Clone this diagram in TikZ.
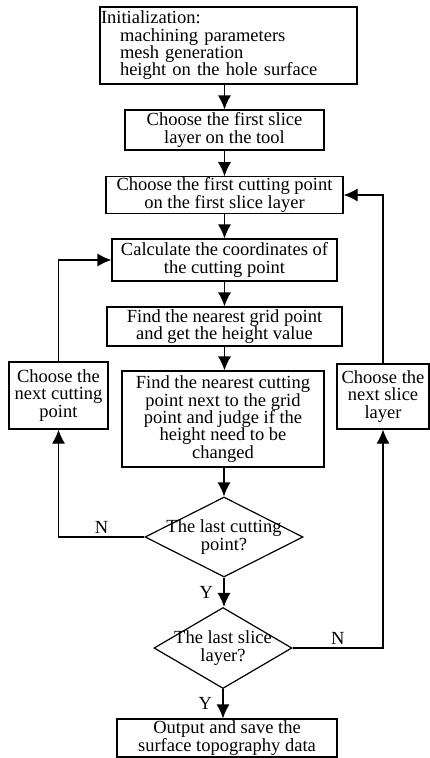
\documentclass[tikz,border=0pt]{standalone}
\usepackage{fontspec}
\setmainfont{Liberation Serif}
\usepackage{tikz}
\usetikzlibrary{arrows.meta}
\usetikzlibrary{shapes.geometric}
\tikzset{>={Latex[length=14pt, width=13pt]}}

\begin{document}
\begin{tikzpicture}[x=1pt, y=-1pt, line width=1.2pt,
    every node/.style={font=\fontsize{18.5pt}{17.3pt}\selectfont},
    box/.style={draw, align=center, inner sep=1pt},
    decision/.style={diamond, draw, inner sep=0pt}]
    \useasboundingbox (0, 0) rectangle (430, 758);
    \node [box, align=left, text width=255pt, minimum height=77pt] (init) at (228.5, 45.5) {Initialization:\\\hspace*{19pt}machining parameters\\\hspace*{19pt}mesh generation\\\hspace*{19pt}height on the hole surface};
    \node [box, minimum width=199pt, minimum height=40pt] (layer) at (224.5, 130) {Choose the first slice\\layer on the tool};
    \node [box, minimum width=237pt, minimum height=36pt] (firstpt) at (224.5, 195) {Choose the first cutting point\\on the first slice layer};
    \node [box, minimum width=225pt, minimum height=42pt] (coord) at (224.5, 260) {Calculate the coordinates of\\the cutting point};
    \node [box, minimum width=235pt, minimum height=39pt] (grid) at (224.5, 326.5) {Find the nearest grid point\\and get the height value};
    \node [box, minimum width=202pt, minimum height=96pt] (judge) at (223, 419) {Find the nearest cutting\\point next to the grid\\point and judge if the\\height need to be\\changed};
    \node [box, minimum width=99pt, minimum height=67pt] (nextpt) at (58.5, 395.5) {Choose the\\next cutting\\point};
    \node [box, minimum width=92pt, minimum height=65pt] (nextlayer) at (383, 396.5) {Choose the\\next slice\\layer};
    \node [decision, minimum width=158pt, minimum height=80pt, label={[align=center]center:The last cutting\\point?}] (lastpt) at (224, 537) {};
    \node [decision, minimum width=138pt, minimum height=81pt, label={[align=center]center:The last slice\\layer?}] (lastlayer) at (223, 648) {};
    \node [box, minimum width=220pt, minimum height=38pt] (output) at (227, 738) {Output and save the\\surface topography data};

    \draw [->] (layer.north |- init.south) -- (layer.north);
    \draw [->] (layer) -- (firstpt);
    \draw [->] (firstpt) -- (coord);
    \draw [->] (coord) -- (grid);
    \draw [->] (grid.south) -- (grid.south |- judge.north);
    \draw [->] (judge.south -| lastpt.north) -- (lastpt.north);
    \draw [->] (lastpt.south) -- node [midway, left=7pt] {Y} (lastpt.south |- lastlayer.north);
    \draw [->] (lastlayer.south) -- node [midway, left=7pt] {Y} (lastlayer.south |- output.north);
    \draw [->] (lastpt.west) -| node [pos=.25, above] {N} (nextpt.south);
    \draw [->] (nextpt.north) |- (coord.west);
    \draw [->] (lastlayer.east) -| node [pos=.25, above] {N} (nextlayer.south);
    \draw [->] (nextlayer.north) |- (firstpt.east);
\end{tikzpicture}
\end{document}
